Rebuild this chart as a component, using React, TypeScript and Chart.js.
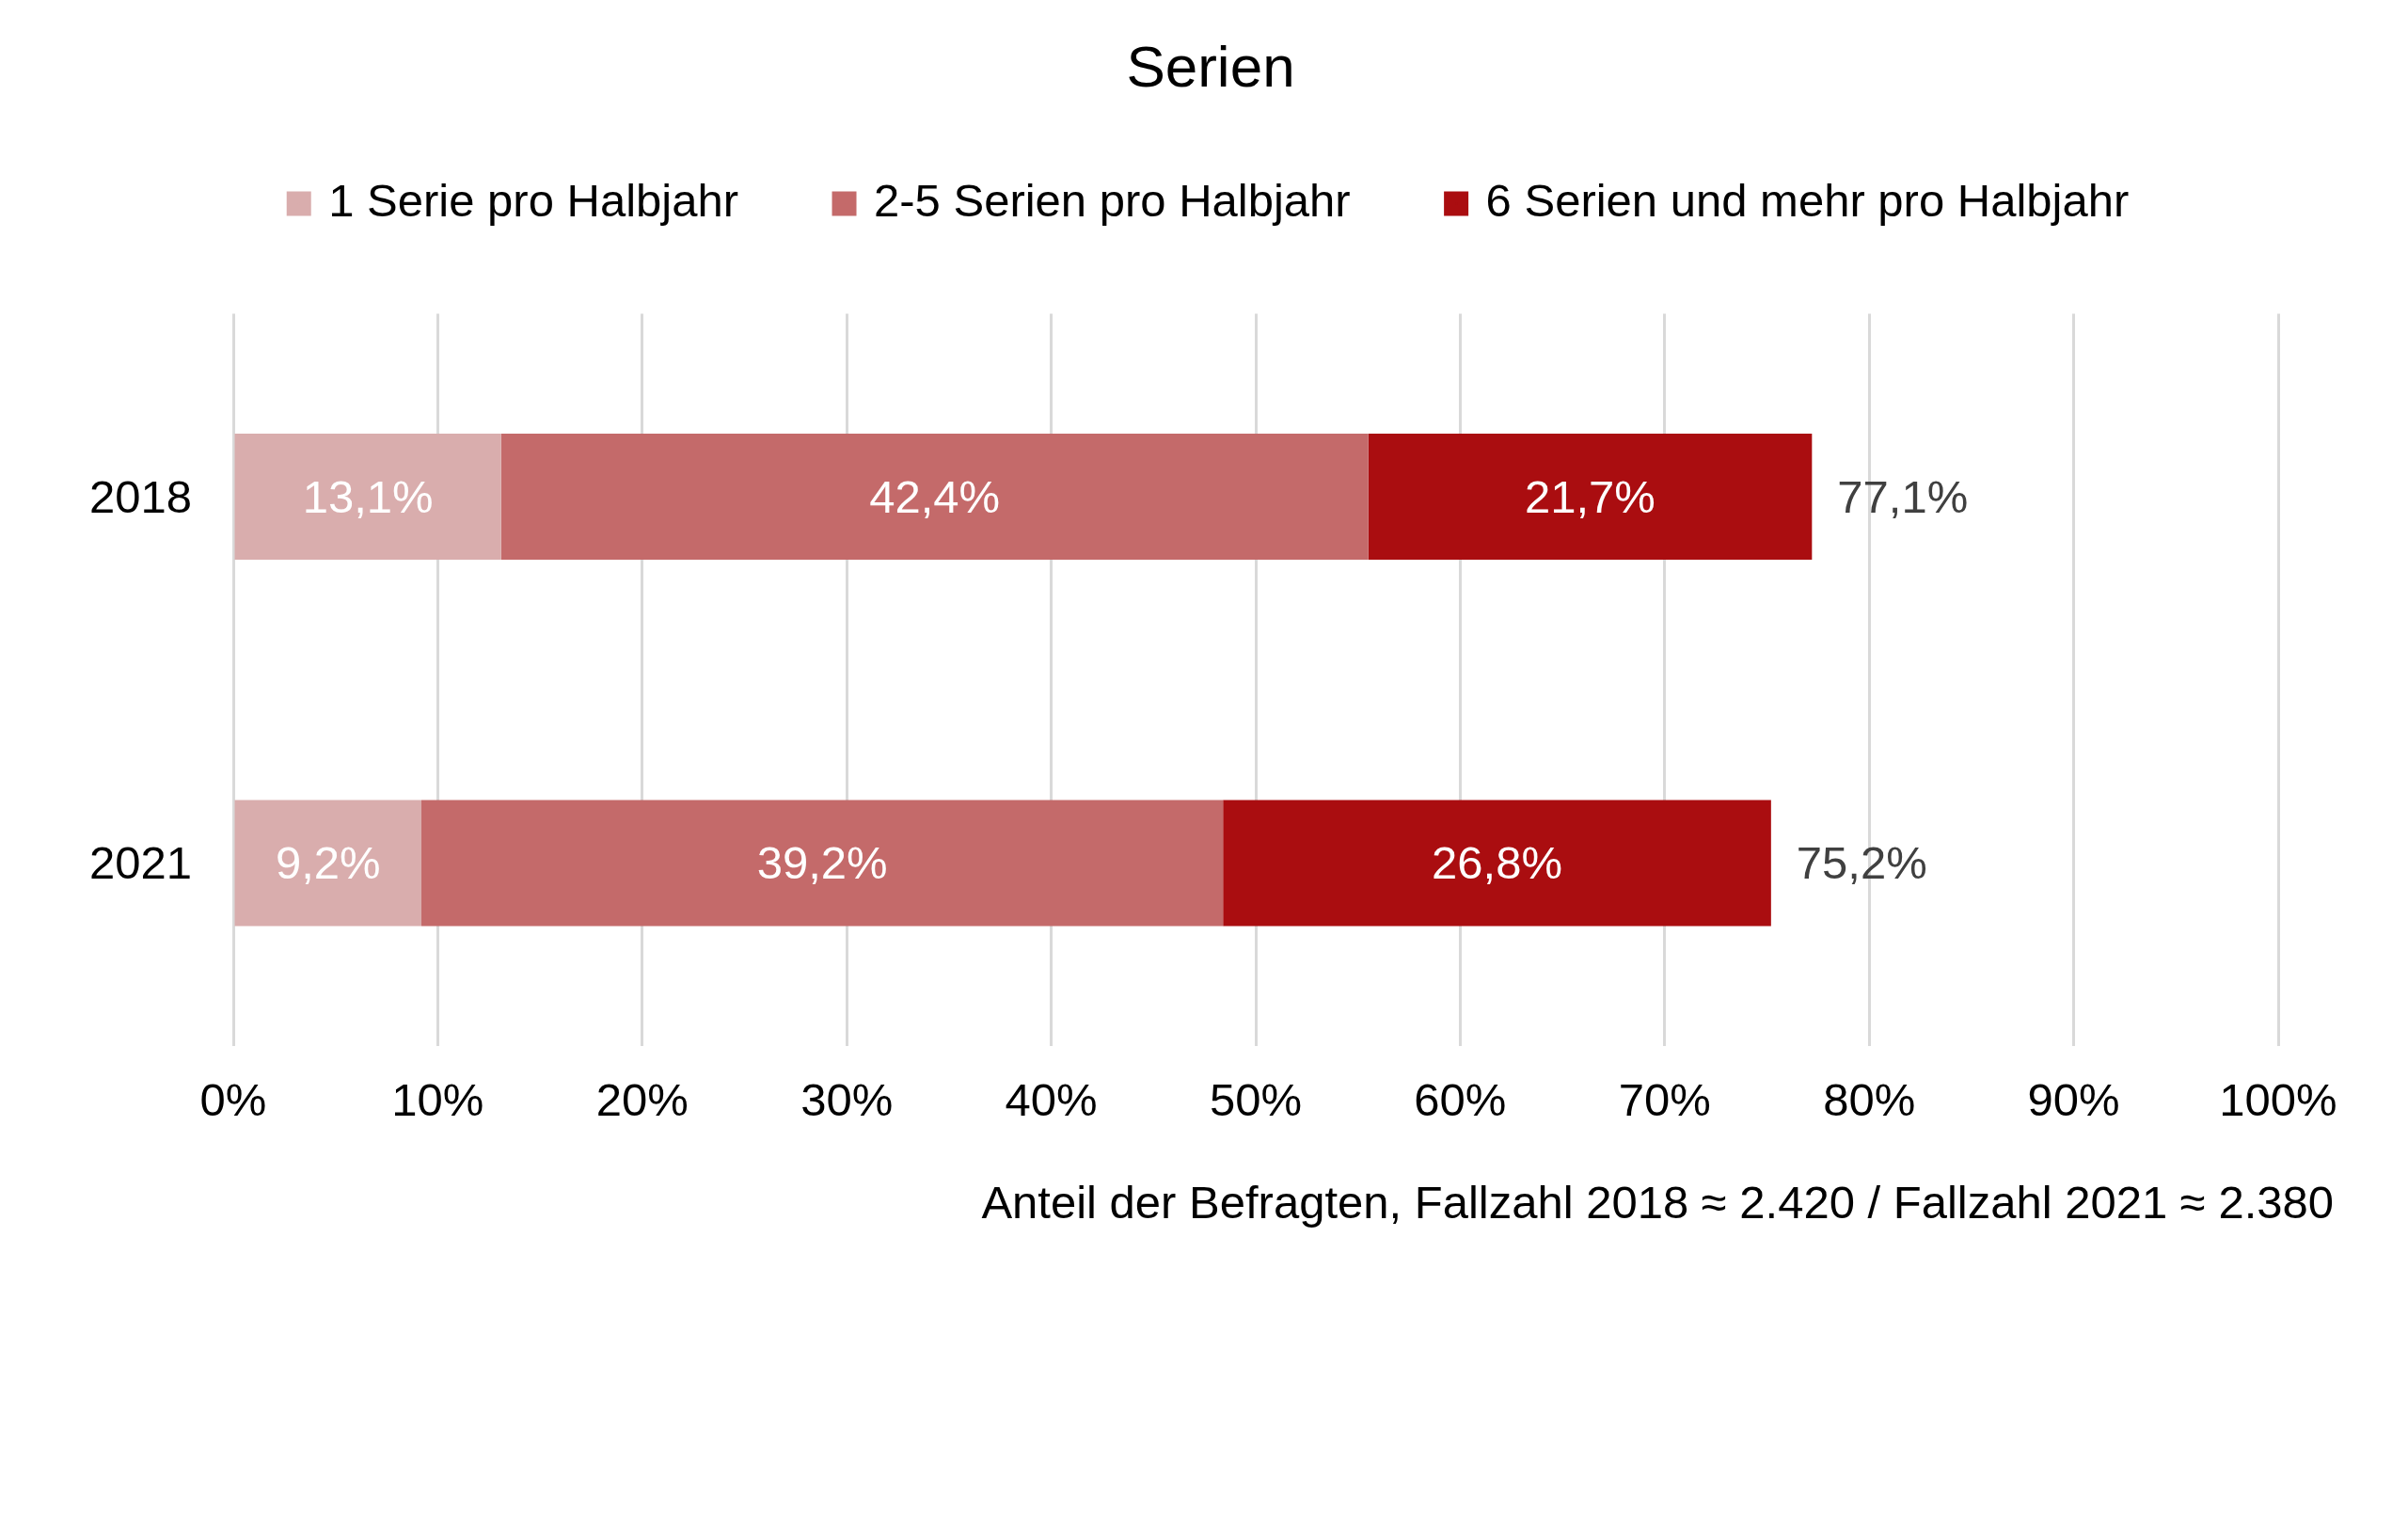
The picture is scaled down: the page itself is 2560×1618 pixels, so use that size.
import { useEffect, useRef } from "react";
import { Chart, registerables, Plugin } from "chart.js";

Chart.register(...registerables);

const FONT = "'Liberation Sans', Arial, Helvetica, sans-serif";
Chart.defaults.font.family = FONT;

// data
const years = ["2018", "2021"];
const seriesNames = [
  "1 Serie pro Halbjahr",
  "2-5 Serien pro Halbjahr",
  "6 Serien und mehr pro Halbjahr",
];
const oneSeries = [13.1, 9.2];
const twoToFive = [42.4, 39.2];
const sixAndMore = [21.7, 26.8];
const totals = [77.1, 75.2];
const xTickValues = [0, 10, 20, 30, 40, 50, 60, 70, 80, 90, 100];
const note = "Anteil der Befragten, Fallzahl 2018 \u2248 2.420 / Fallzahl 2021 \u2248 2.380";

const colors = ["#d9adad", "#c46a6a", "#aa0d10"];

const fmt = (v: number) => v.toFixed(1).replace(".", ",") + "%";

// value labels inside the bars, totals after them, and the note under the axis
const barLabels: Plugin<"bar"> = {
  id: "barLabels",
  afterDatasetsDraw(chart) {
    const { ctx } = chart;
    ctx.save();
    ctx.font = `49px ${FONT}`;
    ctx.textBaseline = "middle";
    ctx.textAlign = "center";
    ctx.fillStyle = "#ffffff";
    chart.data.datasets.forEach((ds, di) => {
      chart.getDatasetMeta(di).data.forEach((bar, i) => {
        const { x, y } = bar.getCenterPoint();
        ctx.fillText(fmt(ds.data[i] as number), x, y + 3);
      });
    });

    const last = chart.getDatasetMeta(chart.data.datasets.length - 1);
    ctx.textAlign = "left";
    ctx.fillStyle = "#404040";
    last.data.forEach((bar: any, i) => {
      ctx.fillText(fmt(totals[i]), bar.x + 27, bar.y + 3);
    });

    const area = chart.chartArea;
    ctx.textAlign = "right";
    ctx.fillStyle = "#000000";
    ctx.fillText(note, area.right + 59, area.bottom + 169);
    ctx.restore();
  },
};

const App = () => {
  const canvasRef = useRef<HTMLCanvasElement | null>(null);
  const chartRef = useRef<Chart | null>(null);

  useEffect(() => {
    const ctx = canvasRef.current?.getContext("2d");
    if (!ctx) return;

    chartRef.current = new Chart(ctx, {
      type: "bar",
      data: {
        labels: years,
        datasets: [oneSeries, twoToFive, sixAndMore].map((data, i) => ({
          label: seriesNames[i],
          data,
          backgroundColor: colors[i],
          borderWidth: 0,
          barPercentage: 0.344,
          categoryPercentage: 1,
        })),
      },
      options: {
        indexAxis: "y",
        animation: false,
        responsive: true,
        maintainAspectRatio: false,
        layout: { padding: { top: 0, left: 152, right: 138, bottom: 385 } },
        scales: {
          x: {
            type: "linear",
            stacked: true,
            min: 0,
            max: 100,
            afterBuildTicks: (scale) => {
              scale.ticks = xTickValues.map((value) => ({ value }));
            },
            grid: { color: "#d9d9d9", lineWidth: 3, drawTicks: false },
            border: { display: false },
            ticks: {
              padding: 31,
              color: "#000000",
              font: { size: 49 },
              maxRotation: 0,
              autoSkip: false,
              callback: (v) => v + "%",
            },
          },
          y: {
            stacked: true,
            grid: { display: false },
            border: { display: false },
            // mirrored with a negative padding so the labels sit left of the
            // narrow axis box without being clipped
            ticks: {
              mirror: true,
              padding: -153,
              labelOffset: 3,
              color: "#000000",
              font: { size: 49 },
            },
            afterFit: (scale) => {
              scale.width = 96;
            },
          },
        },
        plugins: {
          title: {
            display: true,
            text: "Serien",
            color: "#000000",
            font: { size: 62, weight: "normal" },
            padding: { top: 38, bottom: -26 },
          },
          // empty box that keeps the gap between legend and plot
          subtitle: {
            display: true,
            text: "",
            position: "top",
            weight: 500,
            font: { size: 1, lineHeight: 1 },
            padding: { top: 81.5, bottom: 0 },
          },
          legend: {
            position: "top",
            labels: {
              color: "#000000",
              font: { size: 49 },
              boxWidth: 14,
              boxHeight: 14,
              padding: 105.5,
              generateLabels: (chart) =>
                Chart.defaults.plugins.legend.labels
                  .generateLabels(chart)
                  .map((item) => ({
                    ...item,
                    lineWidth: 12,
                    strokeStyle: item.fillStyle,
                  })),
            },
          },
          tooltip: { enabled: false },
        },
      },
      plugins: [barLabels],
    });

    return () => {
      chartRef.current?.destroy();
      chartRef.current = null;
    };
  }, []);

  return (
    <div
      style={{
        position: "absolute",
        left: 0,
        top: 0,
        width: 2560,
        height: 1618,
        background: "#ffffff",
      }}
    >
      <canvas ref={canvasRef} />
    </div>
  );
};

export default App;
